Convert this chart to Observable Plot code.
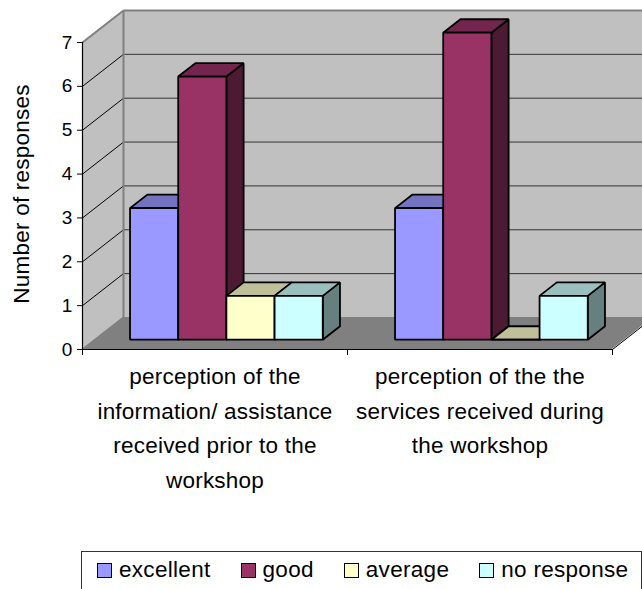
<!DOCTYPE html>
<html>
<head>
<meta charset="utf-8">
<script src="https://cdn.jsdelivr.net/npm/d3@7"></script>
<script src="https://cdn.jsdelivr.net/npm/@observablehq/plot@0.6"></script>
<style>
  html, body { margin: 0; padding: 0; background: #fff; overflow: hidden; width: 642px; height: 589px; }
  #chart svg { display: block; }
  #legend { box-sizing: border-box; margin-left: 81px; width: 561px; height: 60px; border: 1px solid #333; display: flex; gap: 30px; padding: 5px 0 0 15px;
    font-family: "Liberation Sans", Arial, sans-serif; font-size: 22.5px; letter-spacing: 0.3px; color: #000; }
  .item { display: flex; align-items: center; gap: 7px; height: 26px; }
  .swatch { box-sizing: border-box; width: 15px; height: 15px; border: 1.7px solid #000; }
</style>
</head>
<body>
<div id="chart"></div>
<div id="legend"></div>
<script>
const categories = [
  "perception of the\ninformation/ assistance\nreceived prior to the\nworkshop",
  "perception of the the\nservices received during\nthe workshop"
];
const seriesNames = ["excellent", "good", "average", "no response"];
const seriesColors = ["#9999ff", "#993366", "#ffffcc", "#ccffff"];
const excellent = [3, 3];
const good = [6, 7];
const average = [1, 0];
const noResponse = [1, 1];
const seriesValues = [excellent, good, average, noResponse];
const yTicks = [0, 1, 2, 3, 4, 5, 6, 7];

// Chart projection: a depth d in [0,1] shifts a point in the scales' own units.
const categoryWidth = 5.5, barGap = 0.75;
const xMax = categories.length * categoryWidth, yMax = 7;
const depthX = 0.851, depthY = 0.73;
const barFront = 0.29, barBack = 0.71;
const P = (x, y, d) => ({x: x + d * depthX, y: y + d * depthY});

function quad(id, fill, a, b, c, e) {
  return [
    {id, fill, x1: a.x, y1: a.y, x2: e.x, y2: e.y},
    {id, fill, x1: b.x, y1: b.y, x2: c.x, y2: c.y}
  ];
}
function shade(color, f) {
  const c = d3.rgb(color);
  return d3.rgb(c.r * f, c.g * f, c.b * f).formatHex();
}

const leftWall = quad("left", "#c0c0c0", P(0,0,0), P(0,yMax,0), P(0,yMax,1), P(0,0,1));
const backWall = quad("back", "#c0c0c0", P(0,0,1), P(0,yMax,1), P(xMax,yMax,1), P(xMax,0,1));
const floor = quad("floor", "#808080", P(0,0,0), P(0,0,1), P(xMax,0,1), P(xMax,0,0));

const faces = [];
categories.forEach((_, c) => {
  seriesValues.forEach((vals, s) => {
    const v = vals[c], x0 = c * categoryWidth + barGap + s, x1 = x0 + 1, col = seriesColors[s], id = c + "-" + s;
    faces.push(...quad(id + "side", shade(col, 0.5), P(x1,0,barFront), P(x1,v,barFront), P(x1,v,barBack), P(x1,0,barBack)));
    faces.push(...quad(id + "top", shade(col, 0.75), P(x0,v,barFront), P(x0,v,barBack), P(x1,v,barBack), P(x1,v,barFront)));
    faces.push(...quad(id + "front", col, P(x0,0,barFront), P(x0,v,barFront), P(x1,v,barFront), P(x1,0,barFront)));
  });
});

const gridValues = yTicks.filter(t => t > 0 && t < yMax);
const seg = (a, b) => ({x1: a.x, y1: a.y, x2: b.x, y2: b.y});
const gridLeft = gridValues.map(t => seg(P(0,t,0), P(0,t,1)));
const gridBack = gridValues.map(t => seg(P(0,t,1), P(xMax,t,1)));
const wallEdges = [
  seg(P(0,yMax,0), P(0,yMax,1)),
  seg(P(0,yMax,1), P(xMax,yMax,1)),
  seg(P(0,0,1), P(0,yMax,1)),
  seg(P(0,0,0), P(0,0,1))
];
const floorEdge = [seg(P(xMax,0,0), P(xMax,0,1))];

const area = (data, opts) => Plot.area(data, {x1: "x1", y1: "y1", x2: "x2", y2: "y2", z: "id", fill: "fill", ...opts});
const link = (data, opts) => Plot.link(data, {x1: "x1", y1: "y1", x2: "x2", y2: "y2", ...opts});

const chart = Plot.plot({
  width: 642,
  height: 551,
  marginLeft: 82,
  marginRight: 30,
  marginTop: 42,
  marginBottom: 202,
  style: {fontFamily: "'Liberation Sans', Arial, sans-serif", color: "#000", background: "#fff", overflow: "hidden", letterSpacing: "0.22px"},
  x: {domain: [0, xMax], axis: null},
  y: {domain: [0, yMax], axis: null},
  color: {type: "identity"},
  marks: [
    area([...leftWall, ...backWall]),
    link(gridLeft, {stroke: "#000", strokeWidth: 1}),
    link(gridBack, {stroke: "#333", strokeWidth: 1}),
    area(floor),
    link(wallEdges, {stroke: "#808080", strokeWidth: 2}),
    link(floorEdge, {stroke: "#000", strokeWidth: 1}),
    Plot.ruleY([0], {stroke: "#000", strokeWidth: 1.2}),
    Plot.ruleX([0], {stroke: "#000", strokeWidth: 1.2}),
    area(faces, {stroke: "#000", strokeWidth: 1.8, strokeLinejoin: "miter"}),
    Plot.axisY({ticks: yTicks, tickSize: 5, tickPadding: 5, fontSize: 19, label: null, anchor: "left", tickFormat: d3.format("d")}),
    Plot.axisX({ticks: categories.map((_, i) => i * categoryWidth).concat(xMax), tickSize: 6, tickFormat: () => "", label: null, anchor: "bottom"}),
    Plot.text(["Number of responses"], {frameAnchor: "left", textAnchor: "middle", rotate: -90, dx: -61, dy: -2, fontSize: 22.5}),
    Plot.text(categories, {
      x: (_, i) => (i + 0.5) * categoryWidth,
      y: () => 0,
      dy: 10,
      text: d => d,
      lineAnchor: "top",
      lineHeight: 1.54,
      fontSize: 22.5
    })
  ]
});
document.getElementById("chart").appendChild(chart);

const legend = document.getElementById("legend");
seriesNames.forEach((name, i) => {
  const item = document.createElement("div");
  item.className = "item";
  const sw = document.createElement("span");
  sw.className = "swatch";
  sw.style.background = seriesColors[i];
  const label = document.createElement("span");
  label.textContent = name;
  item.append(sw, label);
  legend.appendChild(item);
});
</script>
</body>
</html>
